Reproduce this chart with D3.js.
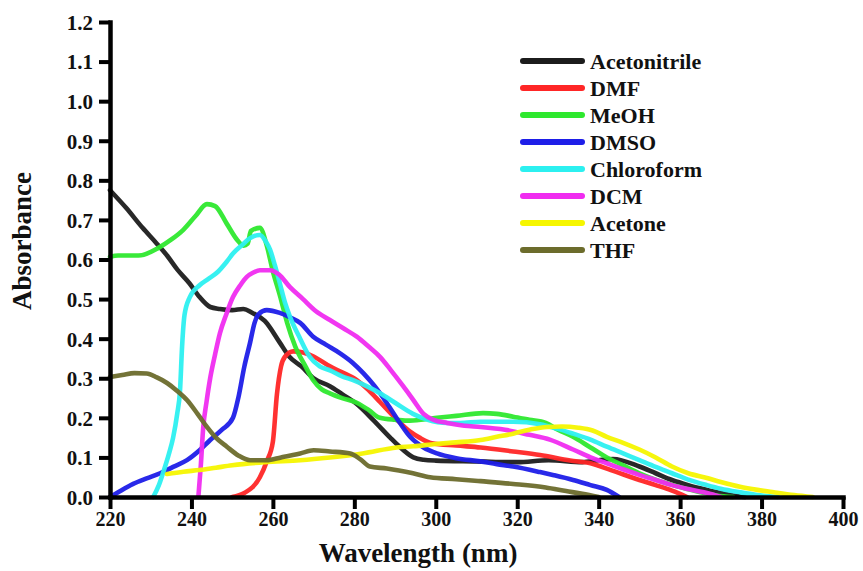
<!DOCTYPE html>
<html>
<head>
<meta charset="utf-8">
<script src="https://cdn.jsdelivr.net/npm/d3@7"></script>
<style>
  html, body { margin: 0; padding: 0; background: #fff; }
  svg { display: block; }
  text { font-family: "Liberation Serif", "Times New Roman", serif; font-weight: bold; fill: #111; }
</style>
</head>
<body>
<svg id="chart" width="863" height="571"></svg>
<script>
// ---------- DATA ----------
const solvents = ["Acetonitrile", "DMF", "MeOH", "DMSO", "Chloroform", "DCM", "Acetone", "THF"];
const xTicks = [220, 240, 260, 280, 300, 320, 340, 360, 380, 400];
const yTicks = [0.0, 0.1, 0.2, 0.3, 0.4, 0.5, 0.6, 0.7, 0.8, 0.9, 1.0, 1.1, 1.2];

const acetonitrileNm  = [220, 224, 228, 231.5, 234, 236.5, 239.5, 242, 244.6, 247, 250, 252.7, 255, 258, 261.7, 264, 267, 270, 274, 277, 280.6, 284.6, 288.8, 291, 294.5, 297, 300, 310, 320, 327.7, 336, 340, 343.5, 350, 354, 358, 362, 366.6, 370, 373, 376];
const acetonitrileAbs = [0.775, 0.73, 0.68, 0.64, 0.61, 0.575, 0.54, 0.505, 0.48, 0.475, 0.472, 0.475, 0.465, 0.445, 0.39, 0.355, 0.33, 0.30, 0.28, 0.26, 0.235, 0.195, 0.15, 0.128, 0.10, 0.094, 0.092, 0.09, 0.088, 0.093, 0.088, 0.093, 0.096, 0.077, 0.06, 0.043, 0.03, 0.018, 0.01, 0.004, 0.0];

const dmfNm  = [250, 253, 256.8, 258.5, 260, 261, 262, 263, 265, 267.4, 270, 274, 277, 280.6, 283.5, 286.3, 290, 293.7, 296, 299, 305, 311, 319, 325.6, 333, 338, 343, 350, 354, 358, 361.7];
const dmfAbs = [0.0, 0.01, 0.05, 0.09, 0.14, 0.26, 0.33, 0.355, 0.368, 0.365, 0.355, 0.33, 0.315, 0.295, 0.27, 0.24, 0.2, 0.165, 0.15, 0.136, 0.13, 0.125, 0.115, 0.106, 0.092, 0.085, 0.068, 0.043, 0.03, 0.016, 0.0];

const meohNm  = [220, 222, 227, 232, 235, 238, 241, 243.8, 245.8, 248.7, 251.2, 252.8, 253.8, 254.6, 256.8, 258.5, 260, 261.7, 263.5, 265.5, 268, 269.9, 272, 274, 277, 280.6, 283.5, 286.3, 290, 293, 297, 300.3, 305, 311.6, 315, 319, 323, 327, 330, 333.7, 338, 342, 346, 350, 355, 360, 365, 369, 373];
const meohAbs = [0.607, 0.61, 0.61, 0.63, 0.65, 0.675, 0.71, 0.74, 0.735, 0.69, 0.65, 0.635, 0.64, 0.672, 0.68, 0.635, 0.57, 0.51, 0.44, 0.38, 0.33, 0.295, 0.272, 0.262, 0.25, 0.238, 0.22, 0.2, 0.195, 0.193, 0.196, 0.2, 0.205, 0.212, 0.21, 0.203, 0.195, 0.187, 0.17, 0.152, 0.125, 0.1, 0.08, 0.06, 0.04, 0.025, 0.012, 0.004, 0.0];

const dmsoNm  = [220, 222, 225.7, 229, 232.3, 235.5, 238.9, 242, 244.6, 247.5, 250.2, 251.5, 253, 254.4, 255.5, 256.5, 258.5, 261.7, 264, 266.7, 269.9, 273, 276.5, 279.5, 282.2, 285, 288, 291, 293.7, 297, 300.3, 305, 310.9, 315, 319, 325.6, 329, 333.7, 338, 342, 345];
const dmsoAbs = [0.0, 0.012, 0.033, 0.047, 0.06, 0.076, 0.093, 0.118, 0.144, 0.17, 0.2, 0.25, 0.33, 0.39, 0.44, 0.462, 0.472, 0.465, 0.455, 0.44, 0.405, 0.385, 0.363, 0.34, 0.313, 0.28, 0.237, 0.19, 0.152, 0.125, 0.11, 0.098, 0.09, 0.083, 0.077, 0.063, 0.055, 0.043, 0.03, 0.018, 0.0];

const chloroformNm  = [230.6, 232, 233, 234.5, 235.5, 236.5, 237.2, 237.7, 238.3, 239.6, 242, 244, 246.3, 248.7, 250.2, 252.5, 254.4, 256.8, 258.3, 259.3, 260.5, 261.7, 263, 264.2, 266.7, 269, 271.5, 274, 277, 279.7, 283, 286.3, 290, 294.4, 298, 302.8, 306, 311, 315, 319, 325.6, 330, 333.7, 338, 342, 346, 350, 354, 358, 362, 366.6, 370, 374.7, 379, 384];
const chloroformAbs = [0.0, 0.03, 0.06, 0.11, 0.15, 0.21, 0.27, 0.38, 0.46, 0.505, 0.535, 0.55, 0.567, 0.595, 0.615, 0.637, 0.654, 0.662, 0.645, 0.625, 0.585, 0.54, 0.49, 0.455, 0.4, 0.355, 0.33, 0.32, 0.305, 0.295, 0.28, 0.262, 0.238, 0.21, 0.195, 0.187, 0.187, 0.19, 0.19, 0.19, 0.184, 0.172, 0.16, 0.145, 0.127, 0.11, 0.093, 0.076, 0.06, 0.044, 0.03, 0.021, 0.012, 0.005, 0.0];

const dcmNm  = [241.7, 242.3, 242.9, 243.7, 244.6, 245.8, 247, 248.5, 250.2, 252, 253.6, 255.2, 256.8, 259.3, 261.5, 264.2, 267.4, 270.5, 274, 277.5, 280.6, 283.5, 286.3, 289, 292, 294.5, 297, 299.5, 302.8, 307, 311, 317, 323, 328, 333.7, 338, 342, 346, 350, 354, 358, 362, 366.6, 370];
const dcmAbs = [0.0, 0.08, 0.177, 0.24, 0.30, 0.36, 0.414, 0.46, 0.505, 0.535, 0.556, 0.567, 0.573, 0.573, 0.562, 0.53, 0.5, 0.47, 0.447, 0.425, 0.405, 0.38, 0.354, 0.32, 0.28, 0.245, 0.21, 0.195, 0.187, 0.18, 0.177, 0.17, 0.157, 0.145, 0.12, 0.1, 0.085, 0.07, 0.056, 0.043, 0.03, 0.02, 0.01, 0.0];

const acetoneNm  = [234, 238, 242, 246, 250, 258, 266.7, 274, 282, 290.4, 294.5, 300, 305, 311, 315, 319, 323, 327.3, 331, 335, 338.5, 342, 346, 350, 354, 358, 362, 366.6, 370, 374.7, 379, 383, 388, 392.6];
const acetoneAbs = [0.058, 0.064, 0.068, 0.074, 0.08, 0.088, 0.093, 0.1, 0.11, 0.125, 0.128, 0.134, 0.138, 0.144, 0.152, 0.16, 0.17, 0.177, 0.178, 0.175, 0.168, 0.152, 0.137, 0.12, 0.1, 0.077, 0.06, 0.048, 0.038, 0.026, 0.018, 0.012, 0.005, 0.0];

const thfNm  = [220, 223, 226, 229, 231.5, 234, 236.5, 238.9, 241.5, 243.8, 246, 248.7, 251.5, 254.4, 258.5, 262, 266.7, 270, 274, 279, 281.5, 283.8, 288, 294.4, 298.6, 305, 311, 319, 327, 332, 336, 340];
const thfAbs = [0.303, 0.308, 0.313, 0.312, 0.302, 0.288, 0.268, 0.245, 0.21, 0.177, 0.15, 0.127, 0.105, 0.093, 0.093, 0.1, 0.11, 0.118, 0.115, 0.11, 0.095, 0.077, 0.072, 0.06, 0.05, 0.045, 0.04, 0.033, 0.024, 0.015, 0.008, 0.0];

const seriesNm  = [acetonitrileNm, dmfNm, meohNm, dmsoNm, chloroformNm, dcmNm, acetoneNm, thfNm];
const seriesAbs = [acetonitrileAbs, dmfAbs, meohAbs, dmsoAbs, chloroformAbs, dcmAbs, acetoneAbs, thfAbs];

// ---------- STYLE ----------
const colors = ["#1c1c1c", "#ff2626", "#2ee82e", "#1e1ee8", "#2cf0f0", "#f02cf0", "#f6f600", "#6c6c2c"];

// ---------- CHART ----------
const svg = d3.select("#chart");
const x = d3.scaleLinear().domain([220, 400]).range([110, 843]);
const y = d3.scaleLinear().domain([0, 1.2]).range([497, 22]);

const line = d3.line()
  .x(d => x(d[0]))
  .y(d => y(d[1]))
  .curve(d3.curveMonotoneX);

const plot = svg.append("g");
solvents.forEach((name, i) => {
  const pts = seriesNm[i].map((v, j) => [v, seriesAbs[i][j]]);
  plot.append("path")
    .datum(pts)
    .attr("d", line)
    .attr("fill", "none")
    .attr("stroke", colors[i])
    .attr("stroke-width", 4.6)
    .attr("stroke-linejoin", "round")
    .attr("stroke-linecap", "round")
    .attr("opacity", 0.95);
});

// axes
const yAxis = svg.append("g")
  .attr("transform", "translate(110,0)")
  .call(d3.axisLeft(y).tickValues(yTicks).tickFormat(d3.format(".1f")).tickSize(11).tickSizeOuter(0).tickPadding(6));
const xAxis = svg.append("g")
  .attr("transform", "translate(0,497)")
  .call(d3.axisBottom(x).tickValues(xTicks).tickFormat(d3.format("d")).tickSize(12).tickSizeOuter(0).tickPadding(3));

[yAxis, xAxis].forEach(g => {
  g.select(".domain").attr("stroke", "#000").attr("stroke-width", 4.5).attr("stroke-linecap", "square");
  g.selectAll(".tick line").attr("stroke", "#000").attr("stroke-width", 4);
  g.selectAll(".tick text").attr("fill", "#111")
    .style("font-family", "'Liberation Serif', 'Times New Roman', serif")
    .style("font-weight", "bold");
});
yAxis.selectAll(".tick text").style("font-size", "21px").attr("dy", "0.35em");
xAxis.selectAll(".tick text").style("font-size", "20px");

// axis titles
svg.append("text")
  .attr("transform", "translate(31,241) rotate(-90)")
  .attr("text-anchor", "middle")
  .style("font-size", "27px")
  .text("Absorbance");
svg.append("text")
  .attr("x", 418).attr("y", 562)
  .attr("text-anchor", "middle")
  .style("font-size", "27px")
  .text("Wavelength (nm)");

// legend
const legend = svg.append("g");
solvents.forEach((name, i) => {
  const yy = 61 + i * 27;
  legend.append("line")
    .attr("x1", 523).attr("x2", 582)
    .attr("y1", yy).attr("y2", yy)
    .attr("stroke", colors[i])
    .attr("stroke-width", 6)
    .attr("stroke-linecap", "round");
  legend.append("text")
    .attr("x", 590).attr("y", yy)
    .attr("dy", "0.35em")
    .style("font-size", "22px")
    .text(name);
});
</script>
</body>
</html>
